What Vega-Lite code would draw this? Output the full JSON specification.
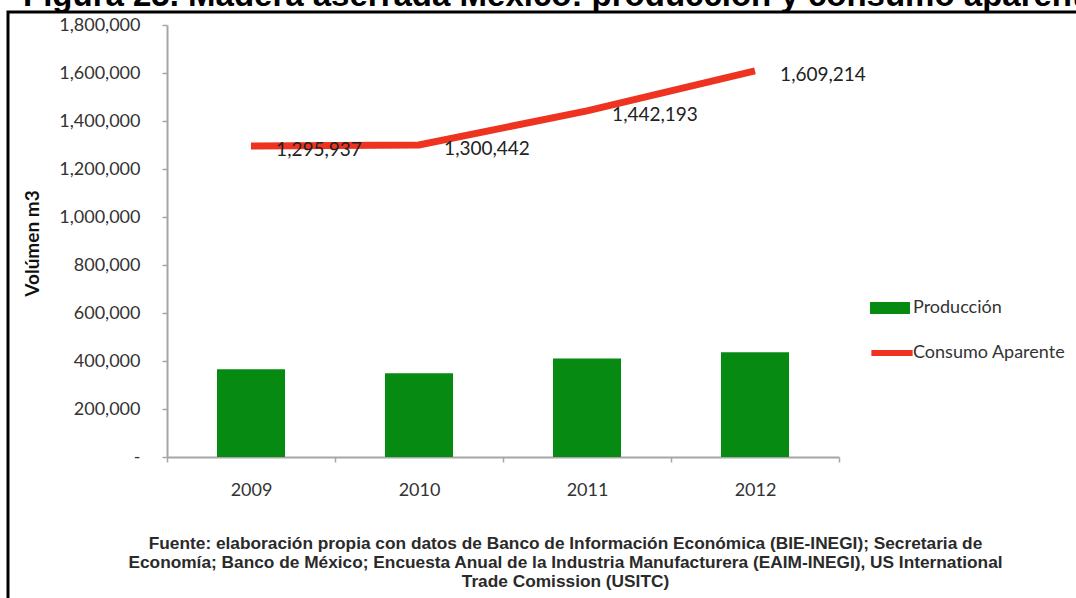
{
  "$schema": "https://vega.github.io/schema/vega-lite/v6.json",
  "autosize": "none",
  "padding": {"left": 8, "top": 12, "right": 0, "bottom": 0},
  "width": 1070,
  "height": 590,
  "background": "white",
  "title": {
    "text": "Figura 25. Madera aserrada México: producción y consumo aparente",
    "anchor": "start",
    "frame": "group",
    "font": "Liberation Sans",
    "fontSize": 33,
    "fontWeight": "bold",
    "color": "#000000",
    "baseline": "alphabetic",
    "offset": 5,
    "dx": 15,
    "dy": 32
  },
  "data": {
    "values": [
      {"year": "2009", "serie": "Producción", "value": 366000},
      {"year": "2010", "serie": "Producción", "value": 349000},
      {"year": "2011", "serie": "Producción", "value": 410000},
      {"year": "2012", "serie": "Producción", "value": 436000},
      {"year": "2009", "serie": "Consumo Aparente", "value": 1295937},
      {"year": "2010", "serie": "Consumo Aparente", "value": 1300442},
      {"year": "2011", "serie": "Consumo Aparente", "value": 1442193},
      {"year": "2012", "serie": "Consumo Aparente", "value": 1609214}
    ]
  },
  "encoding": {
    "x": {
      "field": "year",
      "type": "nominal",
      "scale": {"type": "band", "range": [159, 831], "paddingInner": 0, "paddingOuter": 0},
      "axis": {
        "orient": "bottom",
        "offset": -145,
        "labelAngle": 0,
        "tickBand": "extent",
        "domainColor": "#A6A6A6",
        "domainWidth": 2,
        "tickColor": "#A6A6A6",
        "tickWidth": 1.5,
        "tickSize": 5,
        "labelFont": "Lato",
        "labelFontSize": 18,
        "labelColor": "#333333",
        "labelPadding": 19,
        "title": [
          "Fuente: elaboración propia con datos de Banco de Información Económica (BIE-INEGI); Secretaria de",
          "Economía; Banco de México; Encuesta Anual de la Industria Manufacturera (EAIM-INEGI), US International",
          "Trade Comission (USITC)"
        ],
        "titleFont": "Liberation Sans",
        "titleFontSize": 17.3,
        "titleFontWeight": "bold",
        "titleColor": "#2a2a2a",
        "titleX": 557,
        "titleY": 91,
        "titleAlign": "center",
        "titleBaseline": "alphabetic",
        "titleLineHeight": 19
      }
    },
    "y": {
      "field": "value",
      "type": "quantitative",
      "scale": {"domain": [0, 1800000], "range": [445, 13], "nice": false},
      "axis": {
        "orient": "left",
        "offset": -159,
        "values": [0, 200000, 400000, 600000, 800000, 1000000, 1200000, 1400000, 1600000, 1800000],
        "labelExpr": "datum.value == 0 ? '-  ' : format(datum.value, ',')",
        "grid": false,
        "domainColor": "#A6A6A6",
        "domainWidth": 2,
        "tickColor": "#A6A6A6",
        "tickWidth": 1.5,
        "tickSize": 5,
        "labelFont": "Lato",
        "labelFontSize": 18,
        "labelColor": "#333333",
        "labelPadding": 22,
        "title": "Volúmen m3",
        "titleFont": "Lato",
        "titleFontSize": 19,
        "titleFontWeight": "bold",
        "titleColor": "#111111",
        "titleX": -135,
        "titleY": 231,
        "titleAngle": -90,
        "titleAlign": "center",
        "titleBaseline": "middle"
      }
    }
  },
  "layer": [
    {
      "transform": [{"filter": "datum.serie == 'Producción'"}],
      "mark": {"type": "bar", "width": {"band": 0.405}},
      "encoding": {
        "fill": {
          "field": "serie",
          "type": "nominal",
          "scale": {"domain": ["Producción"], "range": ["#078A12"]},
          "legend": {
            "orient": "none",
            "legendX": 862,
            "legendY": 276,
            "title": null,
            "padding": 0,
            "symbolType": "M-1,-0.3H1V0.3H-1Z",
            "symbolSize": 1600,
            "symbolStrokeWidth": 0,
            "labelFont": "Lato",
            "labelFontSize": 18,
            "labelColor": "#333333",
            "labelOffset": 3,
            "labelLimit": 400
          }
        }
      }
    },
    {
      "transform": [{"filter": "datum.serie == 'Consumo Aparente'"}],
      "mark": {"type": "line", "strokeWidth": 7, "strokeCap": "butt"},
      "encoding": {
        "stroke": {
          "field": "serie",
          "type": "nominal",
          "scale": {"domain": ["Consumo Aparente"], "range": ["#EE3320"]},
          "legend": {
            "orient": "none",
            "legendX": 860,
            "legendY": 317,
            "title": null,
            "padding": 0,
            "symbolType": "stroke",
            "symbolSize": 1700,
            "symbolStrokeWidth": 6,
            "labelFont": "Lato",
            "labelFontSize": 18,
            "labelColor": "#333333",
            "labelOffset": -3,
            "labelLimit": 400
          }
        }
      }
    },
    {
      "transform": [{"filter": "datum.serie == 'Consumo Aparente'"}],
      "mark": {"type": "text", "dx": 68, "dy": 4, "font": "Lato", "fontSize": 19, "color": "#222222", "align": "center", "baseline": "middle"},
      "encoding": {
        "text": {"field": "value", "type": "quantitative", "format": ","}
      }
    }
  ],
  "config": {
    "view": {"stroke": "#000000", "strokeWidth": 3},
    "axis": {"grid": false}
  }
}
